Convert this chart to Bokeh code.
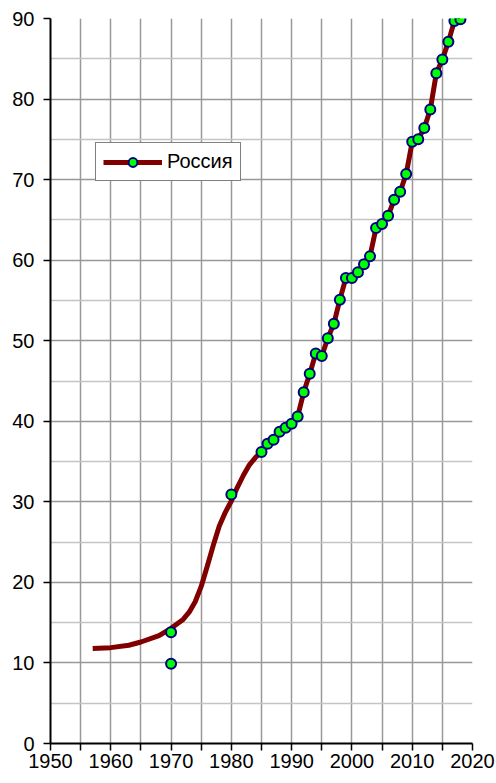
from bokeh.plotting import figure
from bokeh.models import Range1d, FixedTicker, Legend, LegendItem, ColumnDataSource
from bokeh.embed import file_html
from bokeh.resources import INLINE

# Data points (markers)
point_years = [1970, 1970, 1980,
               1985, 1986, 1987, 1988, 1989, 1990, 1991, 1992, 1993, 1994,
               1995, 1996, 1997, 1998, 1999, 2000, 2001, 2002, 2003, 2004,
               2005, 2006, 2007, 2008, 2009, 2010, 2011, 2012, 2013, 2014,
               2015, 2016, 2017, 2018]
point_values = [13.8, 9.9, 30.9,
                36.2, 37.2, 37.7, 38.7, 39.2, 39.7, 40.6, 43.6, 45.9, 48.4,
                48.1, 50.3, 52.1, 55.1, 57.8, 57.8, 58.5, 59.5, 60.5, 64.0,
                64.5, 65.5, 67.5, 68.5, 70.7, 74.7, 75.0, 76.4, 78.7, 83.2,
                84.9, 87.1, 89.7, 89.9]

# Smoothed trend line
line_years = [1957, 1960, 1963, 1965, 1968, 1970, 1972, 1973, 1974, 1975, 1976,
              1977, 1978, 1979, 1980, 1981, 1982, 1983, 1984,
              1985, 1986, 1987, 1988, 1989, 1990, 1991, 1992, 1993, 1994,
              1995, 1996, 1997, 1998, 1999, 2000, 2001, 2002, 2003, 2004,
              2005, 2006, 2007, 2008, 2009, 2010, 2011, 2012, 2013, 2014,
              2015, 2016, 2017, 2018]
line_values = [11.8, 11.9, 12.2, 12.6, 13.4, 14.3, 15.4, 16.3, 17.6, 19.5, 22.0,
               24.6, 27.0, 28.7, 30.1, 31.8, 33.3, 34.6, 35.5,
               36.2, 37.2, 37.7, 38.7, 39.2, 39.7, 40.6, 43.6, 45.9, 48.4,
               48.1, 50.3, 52.1, 55.1, 57.8, 57.8, 58.5, 59.5, 60.5, 64.0,
               64.5, 65.5, 67.5, 68.5, 70.7, 74.7, 75.0, 76.4, 78.7, 83.2,
               84.9, 87.1, 89.7, 89.9]

x_major = list(range(1950, 2021, 10))
x_minor = list(range(1955, 2020, 10))
y_major = list(range(0, 91, 10))
y_minor = list(range(5, 90, 10))
series_name = "Россия"

FONT = "Liberation Sans"

p = figure(width=496, height=780, output_backend="svg", toolbar_location=None,
           x_range=Range1d(1950, 2020), y_range=Range1d(0, 90),
           min_border_left=50, min_border_top=18, min_border_right=24,
           min_border_bottom=37)
p.outline_line_color = None
p.background_fill_color = "white"

# Grid
p.xgrid.ticker = FixedTicker(ticks=list(range(1950, 2021, 5)))
p.xgrid.grid_line_color = "#989898"
p.xgrid.grid_line_width = 1.5
p.ygrid.ticker = FixedTicker(ticks=y_major, minor_ticks=y_minor)
p.ygrid.grid_line_color = "#989898"
p.ygrid.grid_line_width = 1.5
p.ygrid.minor_grid_line_color = "#c4c4c4"
p.ygrid.minor_grid_line_width = 1.5

# Axes
p.xaxis.ticker = FixedTicker(ticks=x_major, minor_ticks=x_minor)
p.yaxis.ticker = FixedTicker(ticks=y_major, minor_ticks=[])
for ax in (p.xaxis[0], p.yaxis[0]):
    ax.axis_line_color = "black"
    ax.axis_line_width = 2
    ax.major_tick_line_color = "black"
    ax.major_tick_line_width = 1.5
    ax.major_tick_out = 7
    ax.major_tick_in = 0
    ax.minor_tick_line_color = "black"
    ax.minor_tick_line_width = 1.5
    ax.minor_tick_out = 7
    ax.minor_tick_in = 0
    ax.major_label_text_font = FONT
    ax.major_label_text_font_size = "20px"
    ax.major_label_text_color = "black"
p.yaxis.major_label_standoff = 9
p.xaxis.major_label_standoff = 3

src_line = ColumnDataSource(dict(x=line_years, y=line_values))
src_pts = ColumnDataSource(dict(x=point_years, y=point_values))

r_line = p.line("x", "y", source=src_line, line_color="#800000", line_width=5)
r_pts = p.scatter("x", "y", source=src_pts, size=10, fill_color="#00ff00",
                  line_color="#000080", line_width=2)

legend = Legend(items=[LegendItem(label=series_name, renderers=[r_line, r_pts])],
                location=(45, 562))
legend.border_line_color = "black"
legend.border_line_width = 1.2
legend.background_fill_color = "white"
legend.background_fill_alpha = 1
legend.label_text_font = FONT
legend.label_text_font_size = "20px"
legend.label_text_color = "black"
legend.glyph_width = 59
legend.glyph_height = 22
legend.label_height = 22
legend.label_standoff = 5
legend.padding = 7
legend.margin = 0
legend.spacing = 0
p.add_layout(legend, "center")

open("out.html", "w").write(file_html(p, INLINE))
